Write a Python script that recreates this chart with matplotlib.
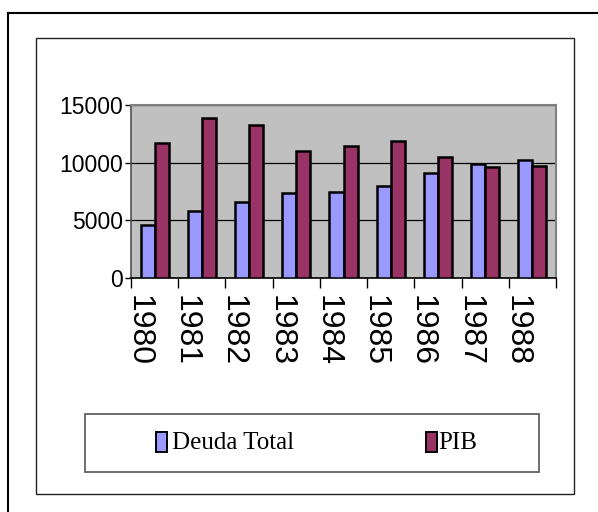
import matplotlib
matplotlib.use("Agg")
import matplotlib.pyplot as plt
import matplotlib.transforms as mtransforms
from matplotlib.patches import Rectangle
from matplotlib.lines import Line2D
import numpy as np

years = ["1980", "1981", "1982", "1983", "1984", "1985", "1986", "1987", "1988"]
deuda_total = [4600, 5850, 6600, 7400, 7500, 8000, 9100, 9900, 10200]
pib = [11700, 13900, 13250, 11050, 11450, 11900, 10500, 9600, 9700]
series_names = ["Deuda Total", "PIB"]
series_colors = ["#9999FF", "#993366"]
y_ticks = [0, 5000, 10000, 15000]

W, H = 598, 512
DPI = 100
fig = plt.figure(figsize=(W / DPI, H / DPI), dpi=DPI)
fig.patch.set_facecolor("white")


def fx(px):
    return px / W


def fy(py):
    return 1 - py / H


# outer frame (top and left edges visible)
fig.add_artist(Line2D([fx(8), fx(8)], [fy(13), 0], color="black", lw=1.5,
                      transform=fig.transFigure))
fig.add_artist(Line2D([fx(8), 1], [fy(13), fy(13)], color="black", lw=1.5,
                      transform=fig.transFigure))
# chart area frame
fig.add_artist(Rectangle((fx(36), fy(494)), fx(574) - fx(36), fy(38) - fy(494),
                         fill=False, edgecolor="#222222", lw=1.0,
                         transform=fig.transFigure))

# plot area
ax = fig.add_axes([fx(131), fy(278), fx(556) - fx(131), fy(105) - fy(278)])
ax.set_facecolor("#C0C0C0")

x = np.arange(len(years))
bw = 0.297
ax.bar(x - bw / 2, deuda_total, width=bw, color=series_colors[0],
       edgecolor="black", linewidth=1.8, zorder=3)
ax.bar(x + bw / 2, pib, width=bw, color=series_colors[1],
       edgecolor="black", linewidth=1.8, zorder=3)

ax.set_xlim(-0.5, len(years) - 0.5)
ax.set_ylim(0, 15000)

ax.set_yticks(y_ticks)
ax.set_yticklabels([str(v) for v in y_ticks], fontfamily="Liberation Sans",
                   fontsize=16.5)
ax.yaxis.grid(True, color="black", lw=0.9, zorder=1)
ax.set_axisbelow(True)
ax.tick_params(axis="y", direction="out", length=4, width=1, color="black",
               pad=2)

# category labels at centres, tick marks at category boundaries
ax.set_xticks(x)
ax.set_xticklabels(years, rotation=270, fontfamily="Liberation Sans",
                   fontsize=23, va="top", ha="center")
ax.set_xticks(np.arange(-0.5, len(years), 1.0), minor=True)
ax.tick_params(axis="x", which="major", length=0, pad=12)
ax.tick_params(axis="x", which="minor", direction="out", length=7, width=1,
               color="black")
shift = mtransforms.ScaledTranslation(-16 / DPI, 0, fig.dpi_scale_trans)
for lbl in ax.get_xticklabels():
    lbl.set_transform(lbl.get_transform() + shift)

for side in ["top", "right"]:
    ax.spines[side].set_color("#808080")
    ax.spines[side].set_linewidth(1.5)
ax.spines["left"].set_color("#505050")
ax.spines["left"].set_linewidth(1.2)
ax.spines["bottom"].set_color("black")
ax.spines["bottom"].set_linewidth(1.2)

# legend box
fig.add_artist(Rectangle((fx(85), fy(472)), fx(539) - fx(85), fy(414) - fy(472),
                         fill=False, edgecolor="#555555", lw=1.2,
                         transform=fig.transFigure))
legend_pos = [(156, 172), (426, 438)]
for (mx, tx), name, col in zip(legend_pos, series_names, series_colors):
    fig.add_artist(Rectangle((fx(mx), fy(452)), fx(mx + 11) - fx(mx),
                             fy(432) - fy(452), facecolor=col,
                             edgecolor="black", lw=1.4,
                             transform=fig.transFigure))
    fig.text(fx(tx), fy(443), name, fontfamily="Liberation Serif", fontsize=18,
             va="center", ha="left")

fig.savefig("out.png", dpi=DPI)
